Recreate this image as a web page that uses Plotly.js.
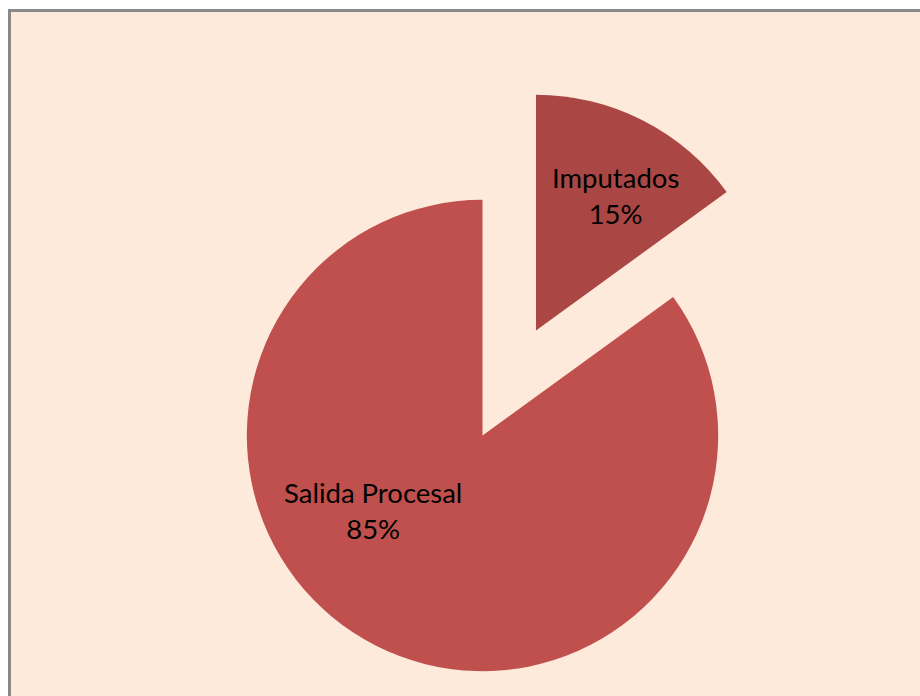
<!DOCTYPE html>
<html>
<head>
<meta charset="utf-8">
<script src="https://cdn.plot.ly/plotly-3.0.1.min.js"></script>
<style>
  html, body { margin: 0; padding: 0; background: #ffffff; overflow: hidden; width: 920px; height: 696px; }
  #frame { position: absolute; left: 8px; top: 9px; width: 1000px; height: 1000px; box-sizing: border-box;
           background: #FDEADA; border-left: 3px solid #898989; border-top: 3px solid #898989; }
  #chart { position: absolute; left: 0; top: 0; width: 920px; height: 789px; }
</style>
</head>
<body>
<div id="frame"></div>
<div id="chart"></div>
<script>
const labels = ["Imputados", "Salida Procesal"];
const values = [15, 85];
const pulls = [0.5, 0];
const colors = ["#AA4744", "#C0504D"];

const total = values.reduce((a, b) => a + b, 0);
const labelPos = [[0.688, 0.8388], [0.3458, 0.3946]];

const annotations = labels.map((lab, i) => ({
  xref: "paper", yref: "paper",
  x: labelPos[i][0], y: labelPos[i][1],
  xanchor: "center", yanchor: "middle",
  text: lab + "<br>" + Math.round(values[i] / total * 100) + "%",
  showarrow: false,
  align: "center",
  font: { family: "Lato, 'Open Sans', sans-serif", size: 27.5, color: "#000000" }
}));

const trace = {
  type: "pie",
  labels: labels,
  values: values,
  pull: pulls,
  sort: false,
  direction: "clockwise",
  rotation: 0,
  textinfo: "none",
  hoverinfo: "skip",
  marker: { colors: colors, line: { width: 0 } },
  domain: { x: [0, 1], y: [0, 1] }
};

const layout = {
  width: 920,
  height: 789,
  margin: { l: 129, r: 84, t: 82, b: 0 },
  paper_bgcolor: "rgba(0,0,0,0)",
  plot_bgcolor: "rgba(0,0,0,0)",
  showlegend: false,
  annotations: annotations
};

Plotly.newPlot("chart", [trace], layout, { displayModeBar: false, staticPlot: true });
</script>
</body>
</html>
